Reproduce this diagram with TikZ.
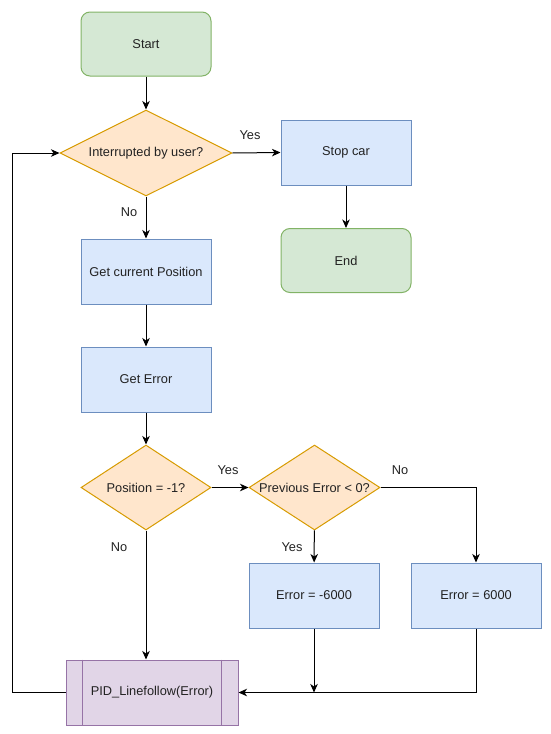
\documentclass[tikz,border=0pt]{standalone}
\usepackage{fontspec}
\setmainfont{Liberation Sans}
\usetikzlibrary{arrows.meta,shapes.geometric,positioning}
\definecolor{termfill}{HTML}{D5E8D4}
\definecolor{termline}{HTML}{82B366}
\definecolor{procfill}{HTML}{DAE8FC}
\definecolor{procline}{HTML}{6C8EBF}
\definecolor{decfill}{HTML}{FFE6CC}
\definecolor{decline}{HTML}{D79B00}
\definecolor{subfill}{HTML}{E1D5E7}
\definecolor{subline}{HTML}{9673A6}
\definecolor{textgray}{HTML}{222222}
\tikzset{
    terminal/.style={
        rectangle, rounded corners=9pt, draw=termline, fill=termfill,
        line width=1pt, minimum width=130pt, minimum height=64pt, inner sep=0pt
    },
    process/.style={
        rectangle, draw=procline, fill=procfill,
        line width=1pt, minimum width=130pt, minimum height=65pt, inner sep=0pt
    },
    % diamonds keep their size, the text may run over the edges
    decision/.style={
        diamond, draw=decline, fill=decfill, line width=1pt, inner sep=0pt
    },
    subproc/.style={
        rectangle, draw=subline, fill=subfill,
        line width=1pt, minimum width=172pt, minimum height=65pt, inner sep=0pt
    },
    subbar/.style={draw=subline, line width=1pt},
    flowarrow/.style={
        line width=1pt, black, ->,
        >={Stealth[length=8.5pt, width=7.5pt, inset=2.5pt]}
    },
    flowlabel/.style={inner sep=0pt, textgray}
}
\newcommand{\dtext}[1]{\makebox[0pt]{#1}}

\begin{document}
\begin{tikzpicture}[x=1pt,y=-1pt,font=\fontsize{12.8}{15}\selectfont,text=textgray]
    \useasboundingbox (0,0) rectangle (550,734);
    \node[terminal] (start) at (146,44) {Start};
    \node[decision, minimum width=172pt, minimum height=86pt] (intr) at (146,153) {\dtext{Interrupted by user?}};
    \node[process] (stop) at (346,152.5) {Stop car};
    \node[terminal] (end) at (346,260.5) {End};
    \node[process] (getpos) at (146,271.5) {Get current Position};
    \node[process] (geterr) at (146,379.5) {Get Error};
    \node[decision, minimum width=130pt, minimum height=85pt] (ispos) at (146,487.5) {\dtext{Position = -1?}};
    \node[decision, minimum width=131pt, minimum height=85pt] (preverr) at (314.5,487.5) {\dtext{Previous Error < 0?}};
    \node[process] (errneg) at (314,595.5) {Error = -6000};
    \node[process] (errpos) at (476,595.5) {Error = 6000};
    \node[subproc] (pid) at (152,692.5) {PID\_Linefollow(Error)};
    \draw[subbar] ([xshift=17pt]pid.north west) -- ([xshift=17pt]pid.south west);
    \draw[subbar] ([xshift=-17pt]pid.north east) -- ([xshift=-17pt]pid.south east);

    \node[flowlabel] (yesstop) at (250,135) {Yes};
    \node[flowlabel] (nopos) at (129,212) {No};
    \node[flowlabel] (yesprev) at (228,470) {Yes};
    \node[flowlabel] (noprev) at (400,470) {No};
    \node[flowlabel] (yesneg) at (292,547) {Yes};
    \node[flowlabel] (nopid) at (119,547) {No};

    \coordinate (loop) at (12,692.5);

    \draw[flowarrow] (start) -- (intr);
    \draw[flowarrow] (intr.east) -- (stop.west);
    \draw[flowarrow] (stop) -- (end);
    \draw[flowarrow] (intr) -- (getpos);
    \draw[flowarrow] (getpos) -- (geterr);
    \draw[flowarrow] (geterr) -- (ispos);
    \draw[flowarrow] (ispos.east) -- (preverr.west);
    \draw[flowarrow] (preverr) -- (errneg);
    \draw[flowarrow] (preverr.east) -- (errpos |- preverr.east) -- (errpos.north);
    \draw[flowarrow] (ispos.south) -- (ispos.south |- pid.north);
    \draw[flowarrow] (errneg.south) -- (errneg.south |- pid.east);
    \draw[flowarrow] (errpos.south) -- (errpos.south |- pid.east) -- (pid.east);
    \draw[flowarrow] (pid.west) -- (loop) -- (loop |- intr.west) -- (intr.west);
\end{tikzpicture}
\end{document}
